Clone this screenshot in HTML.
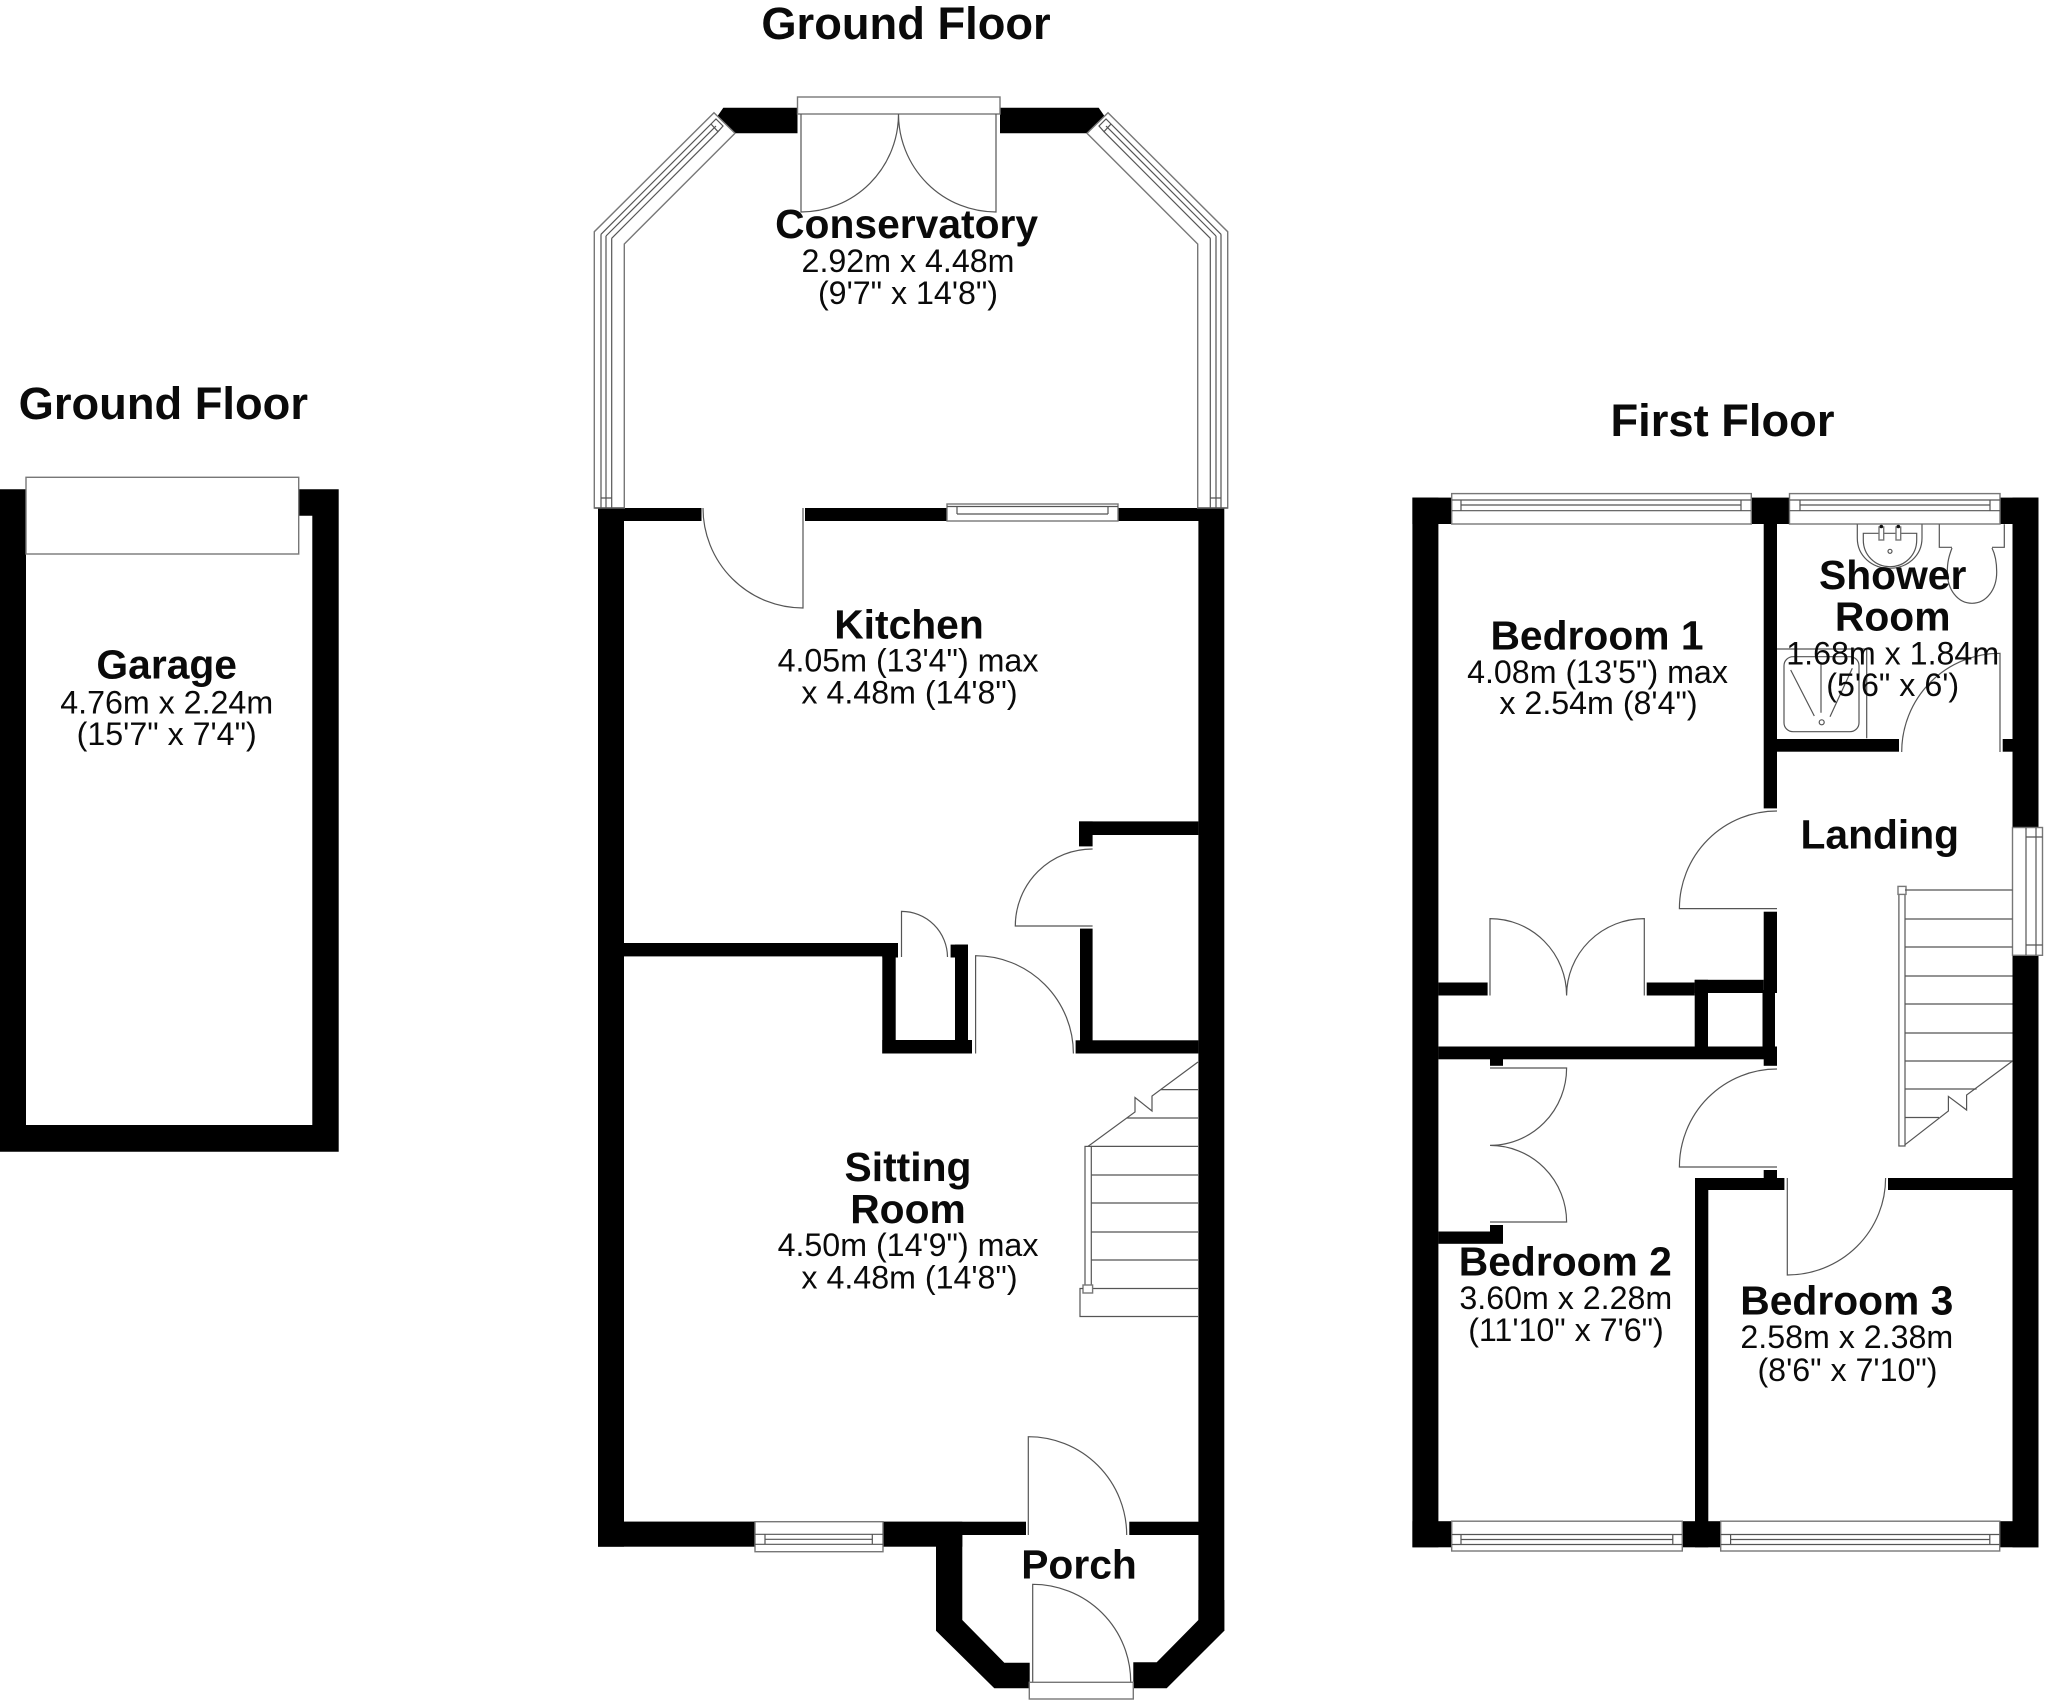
<!DOCTYPE html>
<html><head><meta charset="utf-8"><title>Floor Plan</title>
<style>
html,body{margin:0;padding:0;background:#fff}
svg{display:block}
text{font-family:"Liberation Sans",sans-serif;text-anchor:middle;fill:#0a0a0a}
.t{font-size:45.3px;font-weight:700}
.n{font-size:40.8px;font-weight:700}
.d{font-size:32.2px}
.w{fill:#000;stroke:none}
.l{fill:none;stroke:#555;stroke-width:1.2}
.f{fill:#fff;stroke:#777;stroke-width:1.4}
</style></head><body>
<svg width="2048" height="1703" viewBox="0 0 2048 1703" xmlns="http://www.w3.org/2000/svg">
<rect width="2048" height="1703" fill="#fff"/>

<!-- GARAGE -->
<path class="w" d="M0 489.3H26V1125H312.3V515.7H298.7V489.3H338.7V1151.7H0Z"/>
<rect class="f" x="26" y="477.3" width="272.7" height="76.7"/>

<!-- GROUND FLOOR WALLS -->
<path class="w" d="M723.3 107.7H797.5V133.3H735L716.7 117.3Z"/>
<path class="w" d="M1000 107.7H1098.7L1105.3 117.3L1087 133.3H1000Z"/>
<rect class="w" x="598" y="508" width="103.5" height="13"/>
<rect class="w" x="805" y="508" width="142" height="13"/>
<rect class="w" x="1118" y="508" width="106" height="13"/>
<rect class="w" x="598" y="508" width="26" height="1038.7"/>
<rect class="w" x="1198.4" y="508" width="25.9" height="1123"/>
<rect class="w" x="624" y="943" width="273" height="13.4"/>
<rect class="w" x="882.3" y="943" width="15.7" height="14.5"/>
<rect class="w" x="882.3" y="943" width="13.4" height="110.5"/>
<rect class="w" x="955" y="944.6" width="13" height="108.9"/>
<rect class="w" x="950.6" y="944.6" width="17.4" height="12.9"/>
<rect class="w" x="882.3" y="1040" width="89.7" height="13.5"/>
<rect class="w" x="1079" y="821.4" width="119.4" height="13.6"/>
<rect class="w" x="1079" y="821.4" width="13.6" height="25"/>
<rect class="w" x="1080" y="928.6" width="12.6" height="112"/>
<rect class="w" x="1075.6" y="1040.3" width="122.8" height="13.2"/>
<rect class="w" x="598" y="1521.7" width="428" height="13.3"/>
<rect class="w" x="598" y="1521.7" width="364.3" height="25"/>
<rect class="w" x="1129.3" y="1521.7" width="70" height="13.3"/>
<path class="w" d="M936 1540V1630.7L994.3 1688.3H1029.7V1662.7H1004.3L962.3 1620V1530Z"/>
<path class="w" d="M1133.3 1662.3H1156.7L1198.4 1620V1600H1224.3V1630.7L1166.7 1688.3H1133.3Z"/>

<!-- Conservatory french doors -->
<rect class="f" x="797.5" y="97" width="202.5" height="17"/>
<path class="l" d="M801 114V212A97.5 98 0 0 0 898.5 114A97.5 98 0 0 0 996 212V114"/>
<!-- Conservatory windows -->
<path class="f" d="M714 112.7L735 133.3L624.3 244V508H594.3V231.7Z"/>
<path class="l" d="M601 234.3L711 124M606 236L716 126M611.7 238.3L718 131.7M601 234.3V508M606 236V508M611.7 238.3V508M601 498H611.7M594.3 508H624.3M711 124L716 119L723 126L718 131.7Z"/>
<path class="f" d="M1108 112.7L1087 133.3L1197.7 244V508H1227.7V231.7Z"/>
<path class="l" d="M1221 234.3L1111 124M1216 236L1106 126M1210.3 238.3L1104 131.7M1221 234.3V508M1216 236V508M1210.3 238.3V508M1210.3 498H1221M1197.7 508H1227.7M1111 124L1106 119L1099 126L1104 131.7Z"/>
<!-- Kitchen window -->
<rect class="f" x="947" y="504" width="171" height="17"/>
<path class="l" d="M957 506.5V514M1108 506.5V514M947 506.5H1118M957 514H1108"/>
<!-- Kitchen door -->
<path class="l" d="M703 508A100 100 0 0 0 803 608V508"/>
<!-- Closet door -->
<path class="l" d="M1092.6 849A77 77 0 0 0 1015.3 926H1092.6"/>
<!-- Cupboard door -->
<path class="l" d="M901.5 957V911.4A46 46 0 0 1 947.5 957"/>
<!-- Hall door -->
<path class="l" d="M975.6 1053.5V955.7A98 98 0 0 1 1073.4 1053.5"/>
<!-- Ground stairs -->
<path class="l" d="M1198 1062L1152 1096V1111L1135 1097.5V1112L1088 1146.4"/>
<path class="l" d="M1160.4 1089.6H1198M1127 1118H1198M1091 1146.4H1198M1091 1175H1198M1091 1203H1198M1091 1232H1198M1091 1260H1198M1091 1288.5H1198"/>
<rect class="l" x="1085" y="1146.4" width="6.3" height="140"/>
<rect class="f" x="1083" y="1285" width="9.6" height="8"/>
<path class="l" d="M1083 1288.5H1080V1316.5H1198"/>
<!-- Sitting window -->
<rect class="f" x="755" y="1521.7" width="128" height="30"/>
<path class="l" d="M755 1534.3H883M765 1539.3H872.3M755 1544.3H883M765 1534.3V1544.3M872.3 1534.3V1544.3"/>
<!-- Main door -->
<path class="l" d="M1028.3 1535V1436.7A98.4 98.4 0 0 1 1126.7 1535"/>
<!-- Porch door -->
<path class="l" d="M1032.7 1682V1584.3A98 97.5 0 0 1 1130.7 1682"/>
<rect class="f" x="1029.3" y="1682.3" width="104" height="16.7"/>

<!-- FIRST FLOOR WALLS -->
<rect class="w" x="1412.4" y="497.6" width="26" height="1049.7"/>
<rect class="w" x="1412.4" y="497.6" width="39.3" height="26.4"/>
<rect class="w" x="1751.3" y="497.6" width="38.4" height="26.4"/>
<rect class="w" x="2000" y="497.6" width="38.5" height="26.4"/>
<rect class="w" x="2012.5" y="497.6" width="26" height="1049.7"/>
<rect class="w" x="1763.7" y="524" width="13.3" height="284.4"/>
<rect class="w" x="1763.7" y="911.7" width="13.3" height="81.3"/>
<rect class="w" x="1777" y="739" width="122" height="12.7"/>
<rect class="w" x="2002.7" y="739" width="10" height="12.7"/>
<rect class="w" x="1438.4" y="982.5" width="49.2" height="13"/>
<rect class="w" x="1646.7" y="982.5" width="48" height="13"/>
<rect class="w" x="1694.7" y="979.8" width="69" height="13.2"/>
<rect class="w" x="1694.7" y="979.8" width="13.3" height="67"/>
<rect class="w" x="1762.5" y="990" width="12.5" height="57"/>
<rect class="w" x="1438.4" y="1046.5" width="338.6" height="12.8"/>
<rect class="w" x="1763.7" y="1046.7" width="13.3" height="19.1"/>
<rect class="w" x="1490" y="1059" width="13" height="6.8"/>
<rect class="w" x="1438.4" y="1231.5" width="64.6" height="12.3"/>
<rect class="w" x="1490" y="1225" width="13" height="10"/>
<rect class="w" x="1763.7" y="1170" width="13.3" height="10"/>
<rect class="w" x="1695" y="1178" width="89.4" height="12"/>
<rect class="w" x="1888" y="1178" width="125" height="12"/>
<rect class="w" x="1695" y="1178" width="13.3" height="369.3"/>
<rect class="w" x="1412.4" y="1521.2" width="39.3" height="26.1"/>
<rect class="w" x="1682.3" y="1521.2" width="38.4" height="26.1"/>
<rect class="w" x="1999.7" y="1521.2" width="38.8" height="26.1"/>

<!-- First floor windows -->
<rect class="f" x="1451.7" y="493.6" width="299.6" height="30.4"/>
<path class="l" d="M1451.7 500H1751.3M1461 505H1741M1451.7 510.7H1751.3M1461 500V510.7M1741 500V510.7"/>
<rect class="f" x="1789.5" y="493.6" width="210.5" height="30.4"/>
<path class="l" d="M1789.5 500H2000M1800 505H1990M1789.5 510.7H2000M1800 500V510.7M1990 500V510.7"/>
<rect class="f" x="1451.7" y="1521.2" width="230.6" height="29.8"/>
<path class="l" d="M1451.7 1534.5H1682.3M1461 1539.5H1672.8M1451.7 1544.5H1682.3M1461 1534.5V1544.5M1672.8 1534.5V1544.5"/>
<rect class="f" x="1720.7" y="1521.2" width="279" height="29.8"/>
<path class="l" d="M1720.7 1534.5H1999.7M1730.6 1539.5H1989.8M1720.7 1544.5H1999.7M1730.6 1534.5V1544.5M1989.8 1534.5V1544.5"/>
<rect class="f" x="2012.5" y="827.5" width="30" height="127.8"/>
<path class="l" d="M2026 837H2036V945H2026ZM2026 827.5V955.3M2036 827.5V955.3M2026 837H2042.5M2026 945H2042.5"/>

<!-- Shower room fixtures -->
<path class="l" d="M1857.3 524.3V538C1857.3 556 1872 568.3 1889.6 568.3C1907 568.3 1922 556 1922 538V524.3"/>
<path class="l" d="M1863.3 533.3H1916.7V540C1916.7 555 1905 566.7 1890 566.7C1875 566.7 1863.3 555 1863.3 540Z"/>
<rect class="f" x="1879" y="527" width="4.7" height="13"/>
<rect class="f" x="1896" y="527" width="4.7" height="13"/>
<circle cx="1881.3" cy="526.5" r="1.8" fill="#111"/><circle cx="1898.3" cy="526.5" r="1.8" fill="#111"/>
<circle class="l" cx="1890" cy="551.3" r="2"/>
<path class="l" d="M1939.3 524.3V547.3H1952M1992 547.3H2004.3V524.3"/>
<path class="l" d="M1952 548C1949 556 1947.3 562 1947.3 572C1947.3 590 1958 603.3 1972 603.3C1986 603.3 1996.7 590 1996.7 572C1996.7 562 1995 554 1992 548"/>
<path class="l" d="M1777 649H1866.7V738.3"/>
<rect class="l" x="1784" y="656.7" width="75" height="75" rx="9"/>
<path class="l" d="M1790.7 670L1814.3 716M1821 663.3V712.7M1852.3 668.3L1830 716.7"/>
<circle class="l" cx="1821.7" cy="722.3" r="2.5"/>
<path class="l" d="M2000 752V653.3A98.3 98.7 0 0 0 1901.7 752"/>

<!-- First floor doors -->
<path class="l" d="M1777 811A97.6 97.6 0 0 0 1679.4 908.6H1777"/>
<path class="l" d="M1490 995.5V918.6A76.6 76.9 0 0 1 1566.6 995.5A77.7 76.9 0 0 1 1644.3 918.6V995.5"/>
<path class="l" d="M1490 1068H1566.6A76.6 77.4 0 0 1 1490 1145.4A76.6 76.6 0 0 1 1566.6 1222H1490"/>
<path class="l" d="M1777 1069A97.6 98 0 0 0 1679.4 1167H1777"/>
<path class="l" d="M1787.3 1178V1275A98.3 97 0 0 0 1885.6 1178"/>

<!-- First floor stairs -->
<rect class="l" x="1898.9" y="890" width="6.1" height="256"/>
<rect class="f" x="1898" y="886.4" width="8" height="8"/>
<path class="l" d="M1905 890H2012.5M1905 919H2012.5M1905 947H2012.5M1905 976H2012.5M1905 1004H2012.5M1905 1033H2012.5M1905 1061H2012.5M1905 1089H1976.6M1905 1117.5H1939"/>
<path class="l" d="M1905 1144.7L1948.4 1111V1096.4L1966.6 1110V1095L2012.5 1061"/>

<!-- TEXT -->
<text class="t" x="906" y="39">Ground Floor</text>
<text class="t" x="163.3" y="419">Ground Floor</text>
<text class="t" x="1722.5" y="436">First Floor</text>

<text class="n" x="166.7" y="678.3">Garage</text>
<text class="d" x="166.7" y="713.3">4.76m x 2.24m</text>
<text class="d" x="166.7" y="745">(15'7" x 7'4")</text>

<text class="n" x="906.6" y="238">Conservatory</text>
<text class="d" x="908" y="272">2.92m x 4.48m</text>
<text class="d" x="908" y="304">(9'7" x 14'8")</text>

<text class="n" x="909" y="638.3">Kitchen</text>
<text class="d" x="908" y="671.7">4.05m (13'4") max</text>
<text class="d" x="909.5" y="703.3">x 4.48m (14'8")</text>

<text class="n" x="908" y="1181">Sitting</text>
<text class="n" x="908" y="1223">Room</text>
<text class="d" x="908" y="1256">4.50m (14'9") max</text>
<text class="d" x="909.5" y="1288.5">x 4.48m (14'8")</text>

<text class="n" x="1079" y="1578.3">Porch</text>

<text class="n" x="1597" y="649.5">Bedroom 1</text>
<text class="d" x="1597.5" y="682.8">4.08m (13'5") max</text>
<text class="d" x="1598.5" y="714">x 2.54m (8'4")</text>

<text class="n" x="1892.7" y="589">Shower</text>
<text class="n" x="1892.7" y="630.4">Room</text>
<text class="d" x="1892.7" y="664.5">1.68m x 1.84m</text>
<text class="d" x="1892.7" y="696">(5'6" x 6')</text>

<text class="n" x="1879.8" y="848.5">Landing</text>

<text class="n" x="1565.3" y="1275.5">Bedroom 2</text>
<text class="d" x="1565.8" y="1309">3.60m x 2.28m</text>
<text class="d" x="1566" y="1341">(11'10" x 7'6")</text>

<text class="n" x="1846.8" y="1314.6">Bedroom 3</text>
<text class="d" x="1846.8" y="1348">2.58m x 2.38m</text>
<text class="d" x="1847.5" y="1380.8">(8'6" x 7'10")</text>
</svg>
</body></html>
